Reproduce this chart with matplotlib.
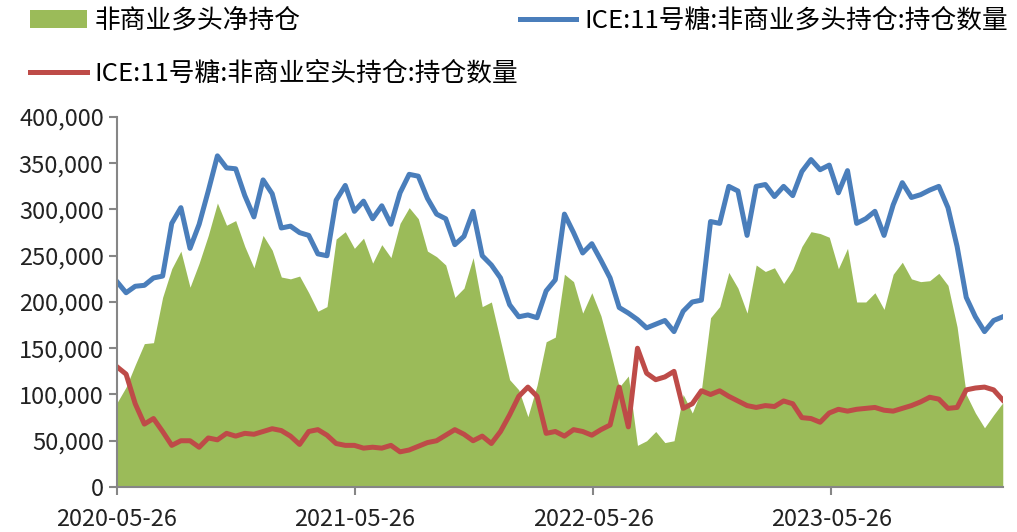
import numpy as np
import pandas as pd
import matplotlib
matplotlib.use('Agg')
import matplotlib.pyplot as plt
import matplotlib.dates as mdates
from matplotlib.ticker import FuncFormatter

plt.rcParams['font.family'] = ['Noto Sans CJK SC', 'DejaVu Sans']

# bi-weekly samples (unit: contracts)
dates = pd.date_range('2020-05-26', periods=98, freq='14D')

net_long = [91, 108, 132, 155, 156, 205, 236, 255, 216, 242,
            272, 307, 283, 288, 260, 237, 272, 256, 227, 225,
            228, 210, 190, 195, 268, 276, 258, 269, 242, 262,
            248, 285, 302, 290, 255, 249, 240, 205, 215, 248,
            195, 200, 158, 116, 105, 76, 110, 157, 162, 230,
            222, 188, 210, 185, 148, 108, 120, 45, 50, 60,
            48, 50, 100, 80, 105, 183, 195, 232, 215, 188,
            240, 233, 237, 220, 235, 260, 276, 274, 270, 236,
            258, 200, 200, 210, 192, 230, 243, 225, 222, 223,
            231, 218, 173, 100, 80, 64, 78, 91]

long_pos = [222, 210, 217, 218, 226, 228, 285, 302, 258, 284,
            320, 358, 345, 344, 315, 292, 332, 317, 280, 282,
            275, 272, 252, 250, 310, 326, 298, 309, 290, 304,
            284, 318, 338, 336, 312, 295, 290, 262, 271, 298,
            250, 240, 226, 197, 184, 186, 183, 212, 224, 295,
            275, 253, 263, 245, 226, 194, 188, 181, 172, 176,
            180, 168, 190, 200, 202, 287, 285, 325, 320, 272,
            325, 327, 314, 325, 315, 341, 354, 343, 348, 318,
            342, 285, 290, 298, 272, 305, 329, 313, 316, 321,
            325, 302, 260, 205, 184, 168, 180, 184]

short_pos = [130, 122, 90, 68, 74, 60, 45, 50, 50, 43,
             53, 51, 58, 55, 58, 57, 60, 63, 61, 55,
             46, 60, 62, 56, 47, 45, 45, 42, 43, 42,
             45, 38, 40, 44, 48, 50, 56, 62, 57, 50,
             55, 47, 60, 78, 98, 108, 98, 58, 60, 55,
             62, 60, 56, 62, 67, 108, 65, 150, 123, 116,
             119, 125, 85, 90, 104, 100, 104, 98, 93, 88,
             86, 88, 87, 93, 90, 75, 74, 70, 80, 84,
             82, 84, 85, 86, 83, 82, 85, 88, 92, 97,
             95, 85, 86, 105, 107, 108, 105, 94]

net_long = np.array(net_long) * 1000
long_pos = np.array(long_pos) * 1000
short_pos = np.array(short_pos) * 1000

tick_dates = pd.to_datetime(['2020-05-26', '2021-05-26', '2022-05-26', '2023-05-26'])

fig = plt.figure(figsize=(10.17, 5.32), dpi=100)
ax = fig.add_axes([0.115, 0.0846, 0.871, 0.6955])

area = ax.fill_between(dates, 0, net_long, color='#9BBB59', linewidth=0)
l_long, = ax.plot(dates, long_pos, color='#4A7EBB', linewidth=3.6,
                  solid_joinstyle='round')
l_short, = ax.plot(dates, short_pos, color='#BE4B48', linewidth=3.6,
                   solid_joinstyle='round')

ax.set_xlim(dates[0], dates[-1])
ax.set_ylim(0, 400000)
ax.set_yticks(np.arange(0, 400001, 50000))
ax.yaxis.set_major_formatter(FuncFormatter(lambda v, p: f'{int(v):,}'))
ax.set_xticks(tick_dates)
ax.xaxis.set_major_formatter(mdates.DateFormatter('%Y-%m-%d'))

for s in ['top', 'right']:
    ax.spines[s].set_visible(False)
for s in ['left', 'bottom']:
    ax.spines[s].set_color('#868686')
    ax.spines[s].set_linewidth(1.5)
ax.tick_params(axis='both', colors='#868686', width=1.5, length=6,
               labelsize=17, labelcolor='#222222')
ax.tick_params(axis='x', pad=9)

leg_kw = dict(loc='upper left', frameon=False, fontsize=18.5, handlelength=2.2,
              handletextpad=0.3, borderpad=0, borderaxespad=0, labelspacing=1.05)
fig.legend([area, l_short],
           ['非商业多头净持仓', 'ICE:11号糖:非商业空头持仓:持仓数量'],
           bbox_to_anchor=(0.0295, 0.985), **leg_kw)
fig.legend([l_long], ['ICE:11号糖:非商业多头持仓:持仓数量'],
           bbox_to_anchor=(0.511, 0.985), **leg_kw)

plt.savefig('out.png', dpi=100)
